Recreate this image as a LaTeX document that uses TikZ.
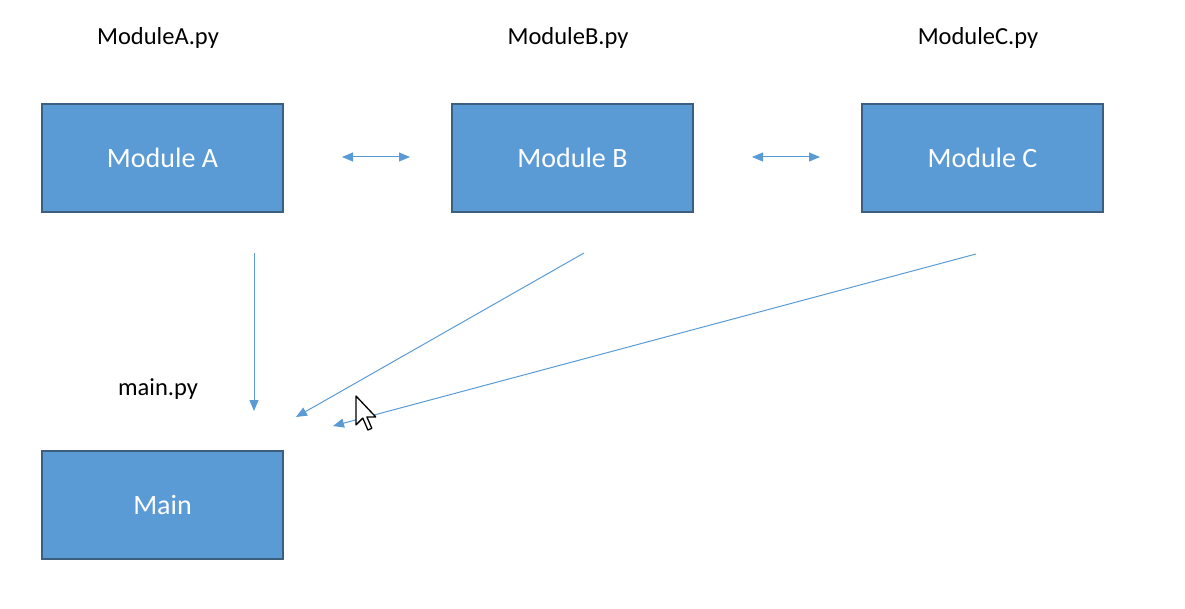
\documentclass[tikz,border=0pt]{standalone}
\usepackage{fontspec}
\setmainfont{Carlito}
\usetikzlibrary{arrows.meta}
\definecolor{boxfill}{HTML}{5B9BD5}
\definecolor{boxline}{HTML}{3C5F80}
\definecolor{arr}{HTML}{5B9BD5}
\begin{document}
\begin{tikzpicture}[x=1pt,y=-1pt,
  mod/.style={draw=boxline, line width=1.6pt, fill=boxfill, minimum width=241pt, minimum height=108pt, inner sep=0pt, text=white, font=\fontsize{28}{32}\selectfont},
  lbl/.style={inner sep=0pt, font=\fontsize{24.5}{28}\selectfont},
  conn/.style={draw=arr, line width=1pt, -{Triangle[length=11pt,width=9pt]}},
  dconn/.style={draw=arr, line width=1pt, {Triangle[length=11pt,width=9pt]}-{Triangle[length=11pt,width=9pt]}}]
\useasboundingbox (0,0) rectangle (1185,609);
\node[mod] (A) at (162.5,158) {Module A};
\node[mod] (B) at (572.5,158) {Module B};
\node[mod] (C) at (982.5,158) {Module C};
\node[mod] (M) at (162.5,505) {Main};
\node[lbl] (la) at (158,38) {ModuleA.py};
\node[lbl] (lb) at (568,38) {ModuleB.py};
\node[lbl] (lc) at (978,38) {ModuleC.py};
\node[lbl] (lm) at (158,389) {main.py};
\coordinate (ab1) at (342,157);
\coordinate (ab2) at (410,157);
\coordinate (bc1) at (752,157);
\coordinate (bc2) at (820,157);
\coordinate (as) at (254,253);
\coordinate (ae) at (254,411);
\coordinate (bs) at (584,253);
\coordinate (be) at (296,417);
\coordinate (cs) at (976,254);
\coordinate (ce) at (333,426);
\draw[dconn] (ab1) -- (ab2);
\draw[dconn] (bc1) -- (bc2);
\draw[conn] (as) -- (ae);
\draw[conn] (bs) -- (be);
\draw[conn] (cs) -- (ce);
% mouse cursor
\draw[fill=white, line width=1.3pt, line join=round, shift={(356,396)}, scale=1.7]
  (0,0) -- (0,17) -- (4,13) -- (7,20) -- (9.3,19) -- (6.4,12.3) -- (11.6,12.3) -- cycle;
\end{tikzpicture}
\end{document}
